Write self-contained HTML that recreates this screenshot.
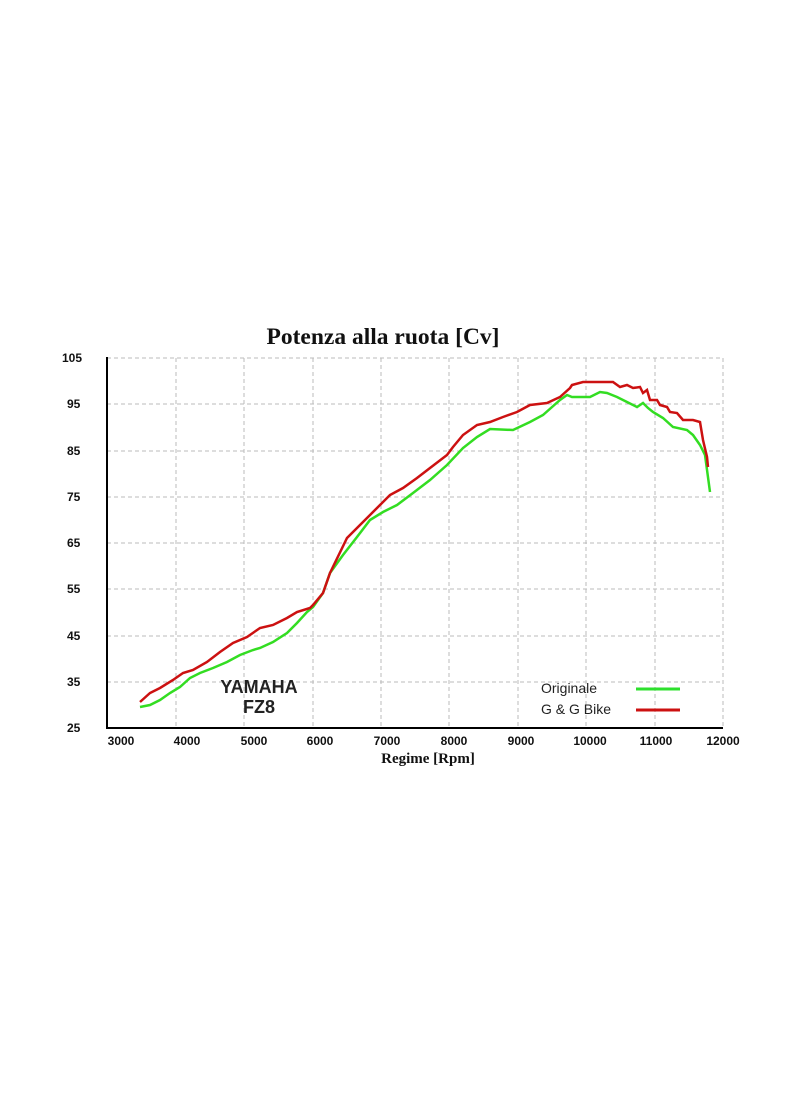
<!DOCTYPE html>
<html><head><style>body{margin:0;background:#fff}svg{display:block}</style></head><body>
<svg width="800" height="1096" xmlns="http://www.w3.org/2000/svg">
<rect width="800" height="1096" fill="#fff"/>
<text x="383" y="344" text-anchor="middle" font-family="Liberation Serif,serif" font-weight="bold" font-size="23.5" fill="#111">Potenza alla ruota [Cv]</text>
<g stroke="#bbb" stroke-dasharray="4,3" stroke-width="1">
<line x1="107" y1="358" x2="723" y2="358"/><line x1="107" y1="404" x2="723" y2="404"/><line x1="107" y1="451" x2="723" y2="451"/><line x1="107" y1="497" x2="723" y2="497"/><line x1="107" y1="543" x2="723" y2="543"/><line x1="107" y1="589" x2="723" y2="589"/><line x1="107" y1="636" x2="723" y2="636"/><line x1="107" y1="682" x2="723" y2="682"/>
<line x1="176" y1="358" x2="176" y2="728"/><line x1="244" y1="358" x2="244" y2="728"/><line x1="313" y1="358" x2="313" y2="728"/><line x1="381" y1="358" x2="381" y2="728"/><line x1="449" y1="358" x2="449" y2="728"/><line x1="518" y1="358" x2="518" y2="728"/><line x1="586" y1="358" x2="586" y2="728"/><line x1="655" y1="358" x2="655" y2="728"/><line x1="723" y1="358" x2="723" y2="728"/>
</g>
<line x1="107" y1="357" x2="107" y2="729" stroke="#000" stroke-width="2"/>
<line x1="106" y1="728" x2="723" y2="728" stroke="#000" stroke-width="2"/>
<g font-family="Liberation Sans,sans-serif" font-weight="bold" font-size="12" fill="#111">
<text x="62" y="362">105</text><text x="67" y="408">95</text><text x="67" y="455">85</text><text x="67" y="501">75</text><text x="67" y="547">65</text><text x="67" y="593">55</text><text x="67" y="640">45</text><text x="67" y="686">35</text><text x="67" y="732">25</text>
</g>
<g font-family="Liberation Sans,sans-serif" font-weight="bold" font-size="12" fill="#111" text-anchor="middle">
<text x="121" y="745">3000</text><text x="187" y="745">4000</text><text x="254" y="745">5000</text><text x="320" y="745">6000</text><text x="387" y="745">7000</text><text x="454" y="745">8000</text><text x="521" y="745">9000</text><text x="590" y="745">10000</text><text x="656" y="745">11000</text><text x="723" y="745">12000</text>
</g>
<text x="428" y="763" text-anchor="middle" font-family="Liberation Serif,serif" font-weight="bold" font-size="15" fill="#111">Regime [Rpm]</text>
<text x="259" y="693" text-anchor="middle" font-family="Liberation Sans,sans-serif" font-weight="bold" font-size="18" fill="#222">YAMAHA</text>
<text x="259" y="713" text-anchor="middle" font-family="Liberation Sans,sans-serif" font-weight="bold" font-size="18" fill="#222">FZ8</text>
<text x="541" y="693" font-family="Liberation Sans,sans-serif" font-size="14" fill="#222">Originale</text>
<text x="541" y="714" font-family="Liberation Sans,sans-serif" font-size="14" fill="#222">G &amp; G Bike</text>
<line x1="636" y1="689" x2="680" y2="689" stroke="#2de02d" stroke-width="3"/>
<line x1="636" y1="710" x2="680" y2="710" stroke="#cc1111" stroke-width="3"/>
<polyline fill="none" stroke="#33dd22" stroke-width="2.5" points="140,707 150,705 160,700 170,693 180,687 190,678 200,673 213,668 227,662 240,655 253,650 260,648 273,642 287,633 297,623 307,612 313,607 323,593 330,573 343,555 357,537 370,520 383,512 397,505 413,493 430,480 447,465 463,448 477,437 490,429 513,430 530,422 543,415 560,400 567,395 572,397 590,397 600,392 607,393 617,397 627,402 637,407 643,403 648,408 653,412 663,418 673,427 687,430 693,435 700,445 705,455 710,492"/>
<polyline fill="none" stroke="#cc1111" stroke-width="2.5" points="140,702 150,693 160,688 173,680 183,673 193,670 207,662 220,652 233,643 247,637 260,628 273,625 287,618 297,612 310,608 313,605 323,593 330,573 347,538 367,518 380,505 390,495 403,488 417,478 430,468 447,455 453,447 463,435 477,425 490,422 503,417 517,412 530,405 547,403 560,397 570,388 572,385 583,382 613,382 620,387 627,385 633,388 640,387 643,393 647,390 650,400 657,400 660,405 667,407 670,412 677,413 683,420 693,420 700,422 703,440 707,457 708,467"/>
</svg>
</body></html>
